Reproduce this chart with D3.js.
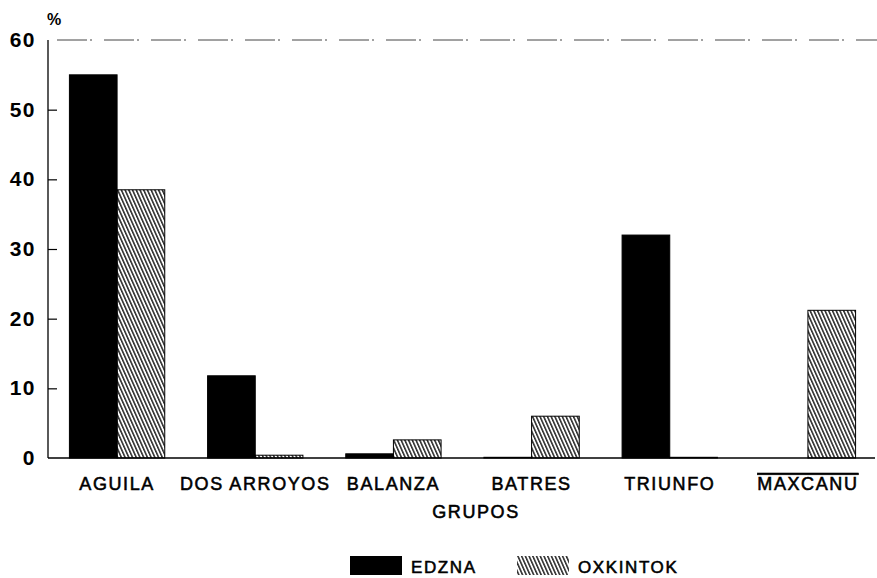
<!DOCTYPE html>
<html>
<head>
<meta charset="utf-8">
<script src="https://cdn.jsdelivr.net/npm/d3@7"></script>
<style>
  body { margin: 0; background: #fff; }
  svg { display: block; }
  text { font-family: "Liberation Sans", Arial, Helvetica, sans-serif; fill: #000; }
  .heavy { stroke: #000; stroke-width: 0.55px; }
</style>
</head>
<body>
<div id="chart"></div>
<script>
// groups (x axis) and the two sites
var grupos = ["AGUILA", "DOS ARROYOS", "BALANZA", "BATRES", "TRIUNFO", "MAXCANU"];
var series = ["EDZNA", "OXKINTOK"];
var edzna = [55, 11.8, 0.6, 0.1, 32, 0];
var oxkintok = [38.5, 0.4, 2.6, 6, 0.1, 21.2];
var yTicks = [0, 10, 20, 30, 40, 50, 60];

var width = 877, height = 578;
var margin = { left: 48, right: 0, top: 40, bottom: 120 };

var svg = d3.select("#chart").append("svg")
    .attr("width", width)
    .attr("height", height);

// hatch for OXKINTOK
var defs = svg.append("defs");
defs.append("pattern")
    .attr("id", "hatch")
    .attr("patternUnits", "userSpaceOnUse")
    .attr("width", 3.4)
    .attr("height", 10)
    .attr("patternTransform", "rotate(-24)")
  .append("line")
    .attr("x1", 0.8).attr("y1", 0)
    .attr("x2", 0.8).attr("y2", 10)
    .style("stroke", "#000")
    .attr("stroke-width", 1.3);

var fills = { EDZNA: "#000", OXKINTOK: "url(#hatch)" };

var x0 = d3.scaleBand()
    .domain(grupos)
    .range([margin.left, width - margin.right])
    .paddingInner(0.31)
    .paddingOuter(0.155);

var x1 = d3.scaleBand()
    .domain(series)
    .range([0, x0.bandwidth()]);

var y = d3.scaleLinear()
    .domain([0, 60])
    .range([height - margin.bottom, margin.top]);

var rows = grupos.map(function (g, i) {
    return { grupo: g, values: [
        { key: "EDZNA", value: edzna[i] },
        { key: "OXKINTOK", value: oxkintok[i] }
    ]};
});

// dash-dot line at top of the scale
svg.append("line")
    .attr("x1", margin.left + 9).attr("x2", width)
    .attr("y1", y(60)).attr("y2", y(60))
    .style("stroke", "#444")
    .attr("stroke-width", 1)
    .attr("stroke-dasharray", "30,3,2,12");

// bars
var g = svg.append("g");
g.selectAll("g.grupo")
    .data(rows)
  .enter().append("g")
    .attr("class", "grupo")
    .attr("transform", function (d) { return "translate(" + x0(d.grupo) + ",0)"; })
  .selectAll("rect")
    .data(function (d) { return d.values; })
  .enter().append("rect")
    .attr("x", function (d) { return x1(d.key); })
    .attr("width", x1.bandwidth())
    .attr("y", function (d) { return y(d.value); })
    .attr("height", function (d) { return y(0) - y(d.value); })
    .attr("fill", function (d) { return fills[d.key]; })
    .style("stroke", function (d) { return d.value > 0 ? "#000" : "none"; })
    .attr("stroke-width", 1);

// y axis
var yAxis = d3.axisRight(y)
    .tickValues(yTicks.slice(1, 6))
    .tickSize(9)
    .tickFormat("");
var ya = svg.append("g")
    .attr("transform", "translate(" + margin.left + ",0)")
    .call(yAxis);
ya.select(".domain").remove();
ya.selectAll(".tick line").style("stroke", "#000").attr("stroke-width", 1.2);

svg.append("line")
    .attr("x1", margin.left).attr("x2", margin.left)
    .attr("y1", y(60)).attr("y2", y(0))
    .style("stroke", "#000")
    .attr("stroke-width", 1.3);

svg.append("g").selectAll("text")
    .data(yTicks)
  .enter().append("text")
    .attr("x", 36)
    .attr("y", function (d) { return y(d) + 7; })
    .attr("text-anchor", "end")
    .style("font-size", "21px")
    .style("font-weight", "bold")
    .style("letter-spacing", "1.5px")
    .text(function (d) { return d; });

svg.append("text")
    .attr("x", 47).attr("y", 25)
    .style("font-size", "16px")
    .style("font-weight", "bold")
    .text("%");

// x axis baseline
svg.append("line")
    .attr("x1", margin.left).attr("x2", width - 2)
    .attr("y1", y(0)).attr("y2", y(0))
    .style("stroke", "#000")
    .attr("stroke-width", 1.3);

var xAxis = d3.axisBottom(x0).tickSize(0).tickPadding(0);
var xa = svg.append("g")
    .attr("transform", "translate(0," + (y(0) + 32) + ")")
    .call(xAxis);
xa.select(".domain").remove();
xa.selectAll(".tick text")
    .attr("class", "heavy")
    .attr("dy", 0)
    .style("font-size", "18px")
    .style("letter-spacing", "1.6px")
    .style("font-family", "'Liberation Sans', Arial, sans-serif")
    .style("fill", "#000")
    .style("text-decoration", function (d) { return d === "MAXCANU" ? "overline" : "none"; });

svg.append("text")
    .attr("class", "heavy")
    .attr("x", 476).attr("y", 518)
    .attr("text-anchor", "middle")
    .style("font-size", "18px")
    .style("letter-spacing", "1.6px")
    .text("GRUPOS");

// legend
var legendX = [350, 517];
var legend = svg.append("g").selectAll("g")
    .data(series)
  .enter().append("g")
    .attr("transform", function (d, i) { return "translate(" + legendX[i] + ",556)"; });
legend.append("rect")
    .attr("width", 52).attr("height", 19)
    .attr("fill", function (d) { return fills[d]; });
legend.append("text")
    .attr("class", "heavy")
    .attr("x", 61).attr("y", 17)
    .style("font-size", "17px")
    .style("letter-spacing", "1.6px")
    .text(function (d) { return d; });
</script>
</body>
</html>
